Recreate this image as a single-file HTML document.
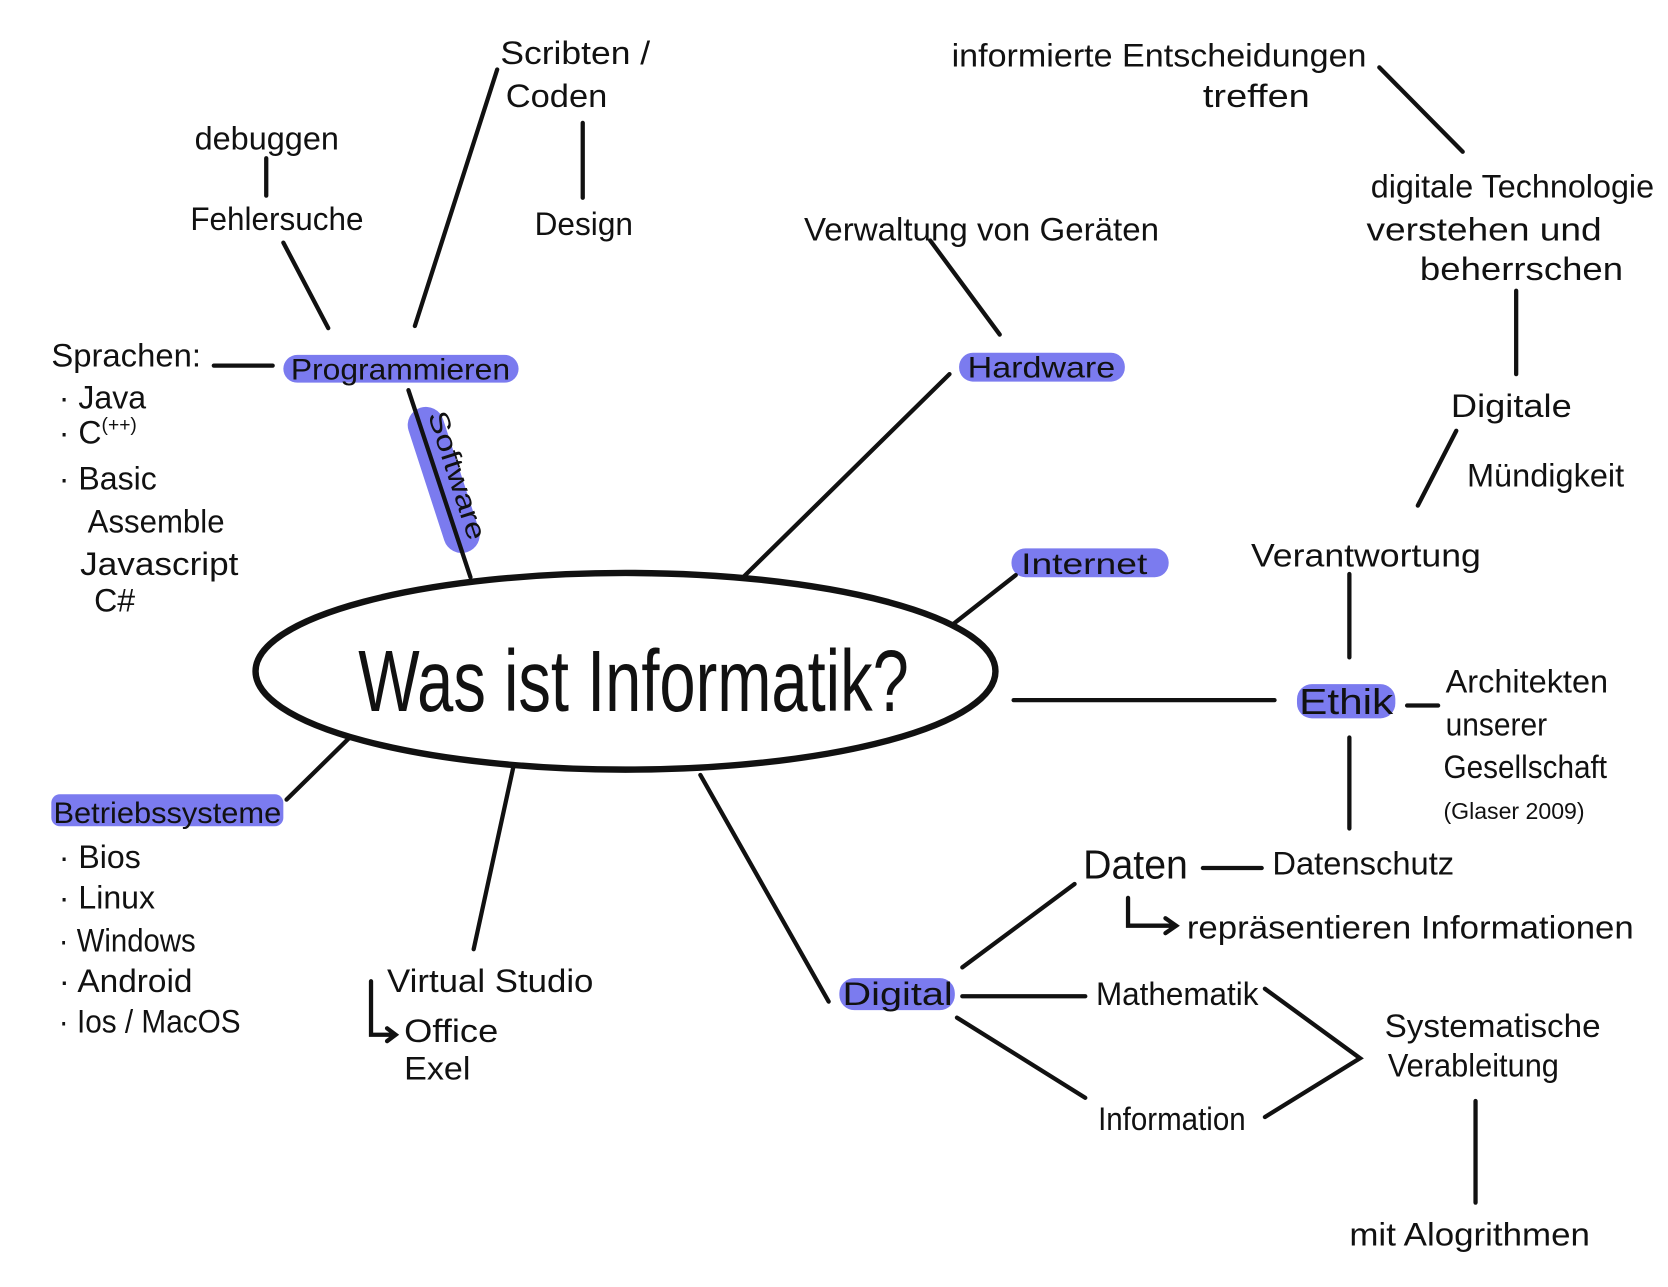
<!DOCTYPE html>
<html><head><meta charset="utf-8"><style>
html,body{margin:0;padding:0;background:#fff;}
svg{display:block;}
text{font-family:"Liberation Sans Narrow","Liberation Sans",sans-serif;fill:#111;}
</style></head><body>
<svg width="1668" height="1287" viewBox="0 0 1560 1204" preserveAspectRatio="none" xmlns="http://www.w3.org/2000/svg">
<rect width="1560" height="1204" fill="#fff"/>
<g fill="#7b7bef">
<rect x="265" y="332" width="220" height="26" rx="13"/>
<rect x="897" y="330" width="155" height="27" rx="13"/>
<rect x="946" y="513" width="147" height="27" rx="13"/>
<rect x="1213" y="640" width="92" height="32" rx="14"/>
<rect x="785" y="915" width="108" height="30" rx="14"/>
<rect x="48" y="743" width="217" height="30" rx="8"/>
<rect x="398" y="378" width="34" height="142" rx="17" transform="rotate(-18 415 449)"/>
</g>
<g stroke="#111" stroke-width="4" fill="none" stroke-linecap="round">
<ellipse cx="585" cy="628" rx="346" ry="92" stroke-width="6"/>
<line x1="200" y1="342" x2="255" y2="342"/>
<line x1="307" y1="307" x2="265" y2="227"/>
<line x1="249" y1="148" x2="249" y2="183"/>
<line x1="388" y1="305" x2="465" y2="65"/>
<line x1="545" y1="115" x2="545" y2="185"/>
<line x1="382" y1="365" x2="440" y2="540"/>
<line x1="935" y1="313" x2="870" y2="225"/>
<line x1="888" y1="350" x2="695" y2="540"/>
<line x1="950" y1="538" x2="890" y2="585"/>
<line x1="948" y1="655" x2="1192" y2="655"/>
<line x1="1316" y1="660" x2="1345" y2="660"/>
<line x1="1262" y1="537" x2="1262" y2="615"/>
<line x1="1262" y1="690" x2="1262" y2="775"/>
<line x1="1326" y1="473" x2="1362" y2="403"/>
<line x1="1418" y1="272" x2="1418" y2="350"/>
<line x1="1368" y1="142" x2="1290" y2="63"/>
<line x1="1125" y1="812" x2="1180" y2="812"/>
<path d="M1055 840 V866 H1100 M1090 859 L1100 866 L1090 873"/>
<line x1="900" y1="905" x2="1005" y2="827"/>
<line x1="900" y1="932" x2="1015" y2="932"/>
<line x1="895" y1="952" x2="1015" y2="1027"/>
<path d="M1183 925 L1272 990 L1183 1045"/>
<line x1="1380" y1="1030" x2="1380" y2="1125"/>
<line x1="655" y1="725" x2="775" y2="937"/>
<line x1="480" y1="718" x2="443" y2="888"/>
<path d="M347 918 V968 H370 M362 962 L370 968 L362 974"/>
<line x1="327" y1="690" x2="268" y2="748"/>
</g>
<text x="335" y="665" font-size="82" textLength="515" lengthAdjust="spacingAndGlyphs">Was ist Informatik?</text>
<g font-size="30">
<text x="272" y="355" font-size="28" textLength="205" lengthAdjust="spacingAndGlyphs">Programmieren</text>
<text x="48" y="343" textLength="140" lengthAdjust="spacingAndGlyphs">Sprachen:</text>
<text x="55" y="382">· Java</text>
<text x="55" y="415">· C<tspan font-size="18" dy="-12">(++)</tspan></text>
<text x="55" y="458">· Basic</text>
<text x="82" y="498" textLength="128" lengthAdjust="spacingAndGlyphs">Assemble</text>
<text x="75" y="538" textLength="148" lengthAdjust="spacingAndGlyphs">Javascript</text>
<text x="88" y="572">C#</text>
<text x="178" y="215" textLength="162" lengthAdjust="spacingAndGlyphs">Fehlersuche</text>
<text x="182" y="140" textLength="135" lengthAdjust="spacingAndGlyphs">debuggen</text>
<text x="468" y="60" textLength="140" lengthAdjust="spacingAndGlyphs">Scribten /</text>
<text x="473" y="100" textLength="95" lengthAdjust="spacingAndGlyphs">Coden</text>
<text x="500" y="220" textLength="92" lengthAdjust="spacingAndGlyphs">Design</text>
<text x="0" y="0" font-size="26" transform="translate(400 388) rotate(72)" textLength="125" lengthAdjust="spacingAndGlyphs">Software</text>
<text x="905" y="353" font-size="28" textLength="138" lengthAdjust="spacingAndGlyphs">Hardware</text>
<text x="752" y="225" textLength="332" lengthAdjust="spacingAndGlyphs">Verwaltung von Geräten</text>
<text x="955" y="537" font-size="28" textLength="118" lengthAdjust="spacingAndGlyphs">Internet</text>
<text x="1215" y="668" font-size="34" textLength="88" lengthAdjust="spacingAndGlyphs">Ethik</text>
<text x="1352" y="648" textLength="152" lengthAdjust="spacingAndGlyphs">Architekten</text>
<text x="1352" y="688" textLength="95" lengthAdjust="spacingAndGlyphs">unserer</text>
<text x="1350" y="728" textLength="153" lengthAdjust="spacingAndGlyphs">Gesellschaft</text>
<text x="1350" y="766" font-size="22" textLength="132" lengthAdjust="spacingAndGlyphs">(Glaser 2009)</text>
<text x="1170" y="530" textLength="215" lengthAdjust="spacingAndGlyphs">Verantwortung</text>
<text x="1357" y="390" textLength="113" lengthAdjust="spacingAndGlyphs">Digitale</text>
<text x="1372" y="455" textLength="147" lengthAdjust="spacingAndGlyphs">Mündigkeit</text>
<text x="1282" y="185" textLength="265" lengthAdjust="spacingAndGlyphs">digitale Technologie</text>
<text x="1278" y="225" textLength="220" lengthAdjust="spacingAndGlyphs">verstehen und</text>
<text x="1328" y="262" textLength="190" lengthAdjust="spacingAndGlyphs">beherrschen</text>
<text x="890" y="62" textLength="388" lengthAdjust="spacingAndGlyphs">informierte Entscheidungen</text>
<text x="1125" y="100" textLength="100" lengthAdjust="spacingAndGlyphs">treffen</text>
<text x="1190" y="818" textLength="170" lengthAdjust="spacingAndGlyphs">Datenschutz</text>
<text x="1013" y="822" font-size="38" textLength="98" lengthAdjust="spacingAndGlyphs">Daten</text>
<text x="1110" y="878" textLength="418" lengthAdjust="spacingAndGlyphs">repräsentieren Informationen</text>
<text x="788" y="940" font-size="30" textLength="103" lengthAdjust="spacingAndGlyphs">Digital</text>
<text x="1025" y="940" textLength="152" lengthAdjust="spacingAndGlyphs">Mathematik</text>
<text x="1027" y="1057" textLength="138" lengthAdjust="spacingAndGlyphs">Information</text>
<text x="1295" y="970" textLength="202" lengthAdjust="spacingAndGlyphs">Systematische</text>
<text x="1298" y="1007" textLength="160" lengthAdjust="spacingAndGlyphs">Verableitung</text>
<text x="1262" y="1165" textLength="225" lengthAdjust="spacingAndGlyphs">mit Alogrithmen</text>
<text x="362" y="928" textLength="193" lengthAdjust="spacingAndGlyphs">Virtual Studio</text>
<text x="378" y="975" textLength="88" lengthAdjust="spacingAndGlyphs">Office</text>
<text x="378" y="1010" textLength="62" lengthAdjust="spacingAndGlyphs">Exel</text>
<text x="50" y="770" font-size="28" textLength="213" lengthAdjust="spacingAndGlyphs">Betriebssysteme</text>
<text x="55" y="812">· Bios</text>
<text x="55" y="850">· Linux</text>
<text x="55" y="890" textLength="128" lengthAdjust="spacingAndGlyphs">· Windows</text>
<text x="55" y="928" textLength="125" lengthAdjust="spacingAndGlyphs">· Android</text>
<text x="55" y="966" textLength="170" lengthAdjust="spacingAndGlyphs">· Ios / MacOS</text>
</g>
</svg>
</body></html>
